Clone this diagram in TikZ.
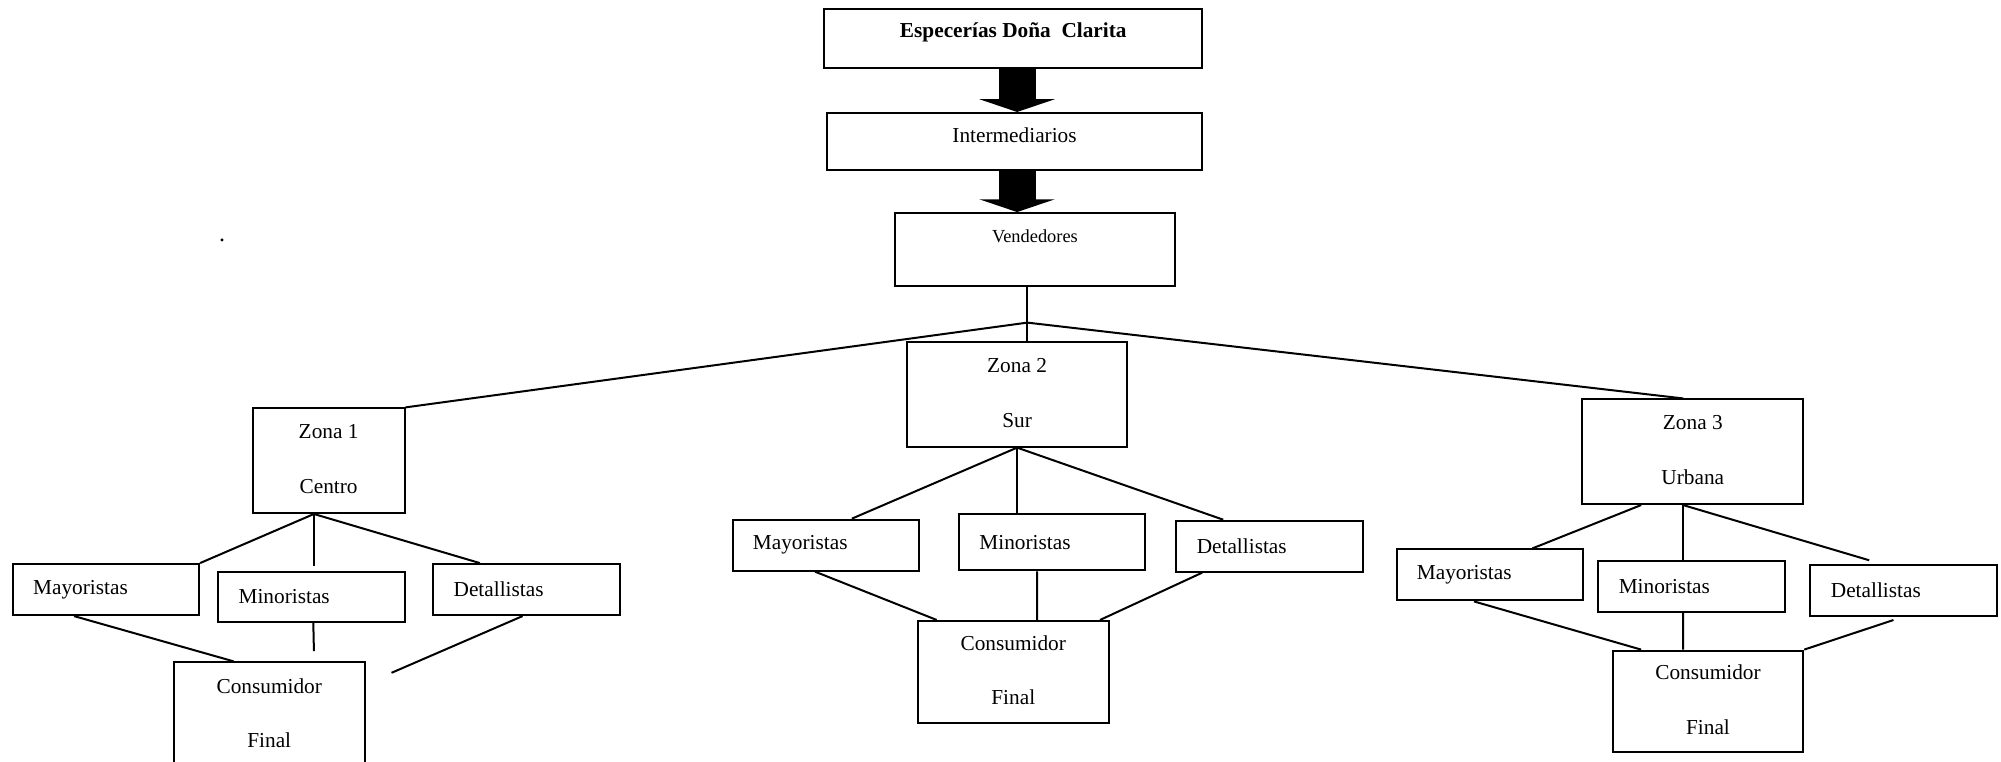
\documentclass[tikz,border=0pt]{standalone}
\usepackage{fontspec}
\setmainfont{Liberation Serif}
\usetikzlibrary{arrows.meta,calc}

\tikzset{
  box/.style={draw, line width=1pt, rectangle, inner sep=0pt},
  twoline/.style={box, align=center, text depth=1.6pt, font=\fontsize{10.65pt}{27.4pt}\selectfont},
  leaf/.style={box, text width=72.75pt, inner xsep=10.2pt, align=left,
               minimum height=25.5pt, font=\fontsize{10.65pt}{12.8pt}\selectfont},
  lbl/.style={inner sep=0pt, font=\fontsize{10.65pt}{12.8pt}\selectfont},
  smalllbl/.style={inner sep=0pt, font=\fontsize{9.2pt}{11pt}\selectfont},
  link/.style={line width=1pt},
  blockarrow/.style={line width=18.5pt, -{Triangle[width=37.6pt,length=6.4pt]}},
}

\begin{document}
\begin{tikzpicture}[x=0.638pt, y=-0.638pt]
  \useasboundingbox (0,0) rectangle (1568,597);

  % top chain
  \node[box, minimum width=188.8pt, minimum height=29.7pt,
        label={[lbl, yshift=3.4pt]center:\textbf{Especerías Doña\ \ Clarita}}] (top) at (794,30.3) {};
  \node[box, minimum width=187.6pt, minimum height=28.4pt,
        label={[lbl, yshift=3.06pt]center:Intermediarios}] (inter) at (795,110.8) {};
  \node[box, minimum width=140.4pt, minimum height=36.4pt,
        label={[smalllbl, yshift=6.7pt]center:Vendedores}] (vend) at (811,195.5) {};

  \coordinate (ax) at (797,0);
  \draw[blockarrow] (top.south -| ax) -- (inter.north -| ax);
  \draw[blockarrow] (inter.south -| ax) -- (vend.north -| ax);

  % stray full stop
  \node[lbl, font=\fontsize{12pt}{14pt}\selectfont] (dot) at (174,188.5) {.};

  % zones
  \node[twoline, minimum width=75.9pt, minimum height=52.3pt] (z1) at (257.5,361) {Zona 1\\Centro};
  \node[twoline, minimum width=109.7pt, minimum height=52.3pt] (z2) at (797,309) {Zona 2\\Sur};
  \node[twoline, minimum width=110.4pt, minimum height=52.3pt] (z3) at (1326.5,354) {Zona 3\\Urbana};

  \coordinate (J) at ($(vend.south)+(-6,28)$);
  \draw[link] ($(vend.south)+(-6,0)$) -- (J);
  \draw[link] (J) -- (z1.north east);
  \draw[link] (J) -- (J |- z2.north);
  \draw[link] (J) -- ($(z3.north)+(-7.5,0)$);

  % zone 1 channels
  \node[leaf] (m1) at (83,462) {Mayoristas};
  \node[leaf, minimum height=24.9pt] (n1) at (244,467.5) {Minoristas};
  \node[leaf] (d1) at (412.5,462) {Detallistas};
  \node[twoline, minimum width=95.7pt, minimum height=52.3pt] (c1) at (211,560) {Consumidor\\Final};

  \draw[link] ($(z1.south)+(-11.5,0)$) -- (m1.north east);
  \draw[link] ($(z1.south)+(-11.5,0)$) -- ($(n1.north)+(2,-4)$);
  \draw[link] ($(z1.south)+(-11.5,0)$) -- ($(d1.north)+(-36.5,0)$);
  \draw[link] ($(m1.south)+(-25,0)$) -- ($(c1.north)+(-28,0)$);
  \draw[link] ($(n1.south)+(1.5,0)$) -- ($(c1.north)+(35,-8)$);
  \draw[link] ($(d1.south)+(-3,0)$) -- ($(c1.north east)+(20,9)$);

  % zone 2 channels
  \node[leaf] (m2) at (647,427.2) {Mayoristas};
  \node[leaf, minimum height=28.1pt] (n2) at (824.5,424.9) {Minoristas};
  \node[leaf] (d2) at (994.8,428) {Detallistas};
  \node[twoline, minimum width=95.3pt, minimum height=50.8pt] (c2) at (794,526.4) {Consumidor\\Final};

  \draw[link] (z2.south) -- ($(m2.north)+(20.5,0)$);
  \draw[link] (z2.south) -- (z2.south |- n2.north);
  \draw[link] (z2.south) -- ($(d2.north)+(-36.3,0)$);
  \draw[link] ($(m2.south)+(-8.3,0)$) -- ($(c2.north)+(-60,0)$);
  \draw[link] ($(n2.south)+(-11.8,0)$) -- ($(c2.north)+(18.7,0)$);
  \draw[link] ($(d2.south)+(-52.8,0)$) -- ($(c2.north)+(68,0)$);

  % zone 3 channels
  \node[leaf] (m3) at (1167.3,450.5) {Mayoristas};
  \node[leaf] (n3) at (1325.5,459.5) {Minoristas};
  \node[leaf] (d3) at (1491.7,462.5) {Detallistas};
  \node[twoline, minimum width=95.2pt, minimum height=50.5pt] (c3) at (1338.4,549.4) {Consumidor\\Final};

  \draw[link] ($(z3.south)+(-40.5,0)$) -- ($(m3.north)+(33.5,0)$);
  \draw[link] ($(z3.south)+(-7.6,0)$) -- ($(n3.north)+(-6.6,0)$);
  \draw[link] ($(z3.south)+(-7.6,0)$) -- ($(d3.north)+(-27,-2.7)$);
  \draw[link] ($(m3.south)+(-12.3,0)$) -- ($(c3.north)+(-52.4,0)$);
  \draw[link] ($(n3.south)+(-6.6,0)$) -- ($(c3.north)+(-19.5,0)$);
  \draw[link] ($(d3.south)+(-8,2.6)$) -- (c3.north east);
\end{tikzpicture}
\end{document}
